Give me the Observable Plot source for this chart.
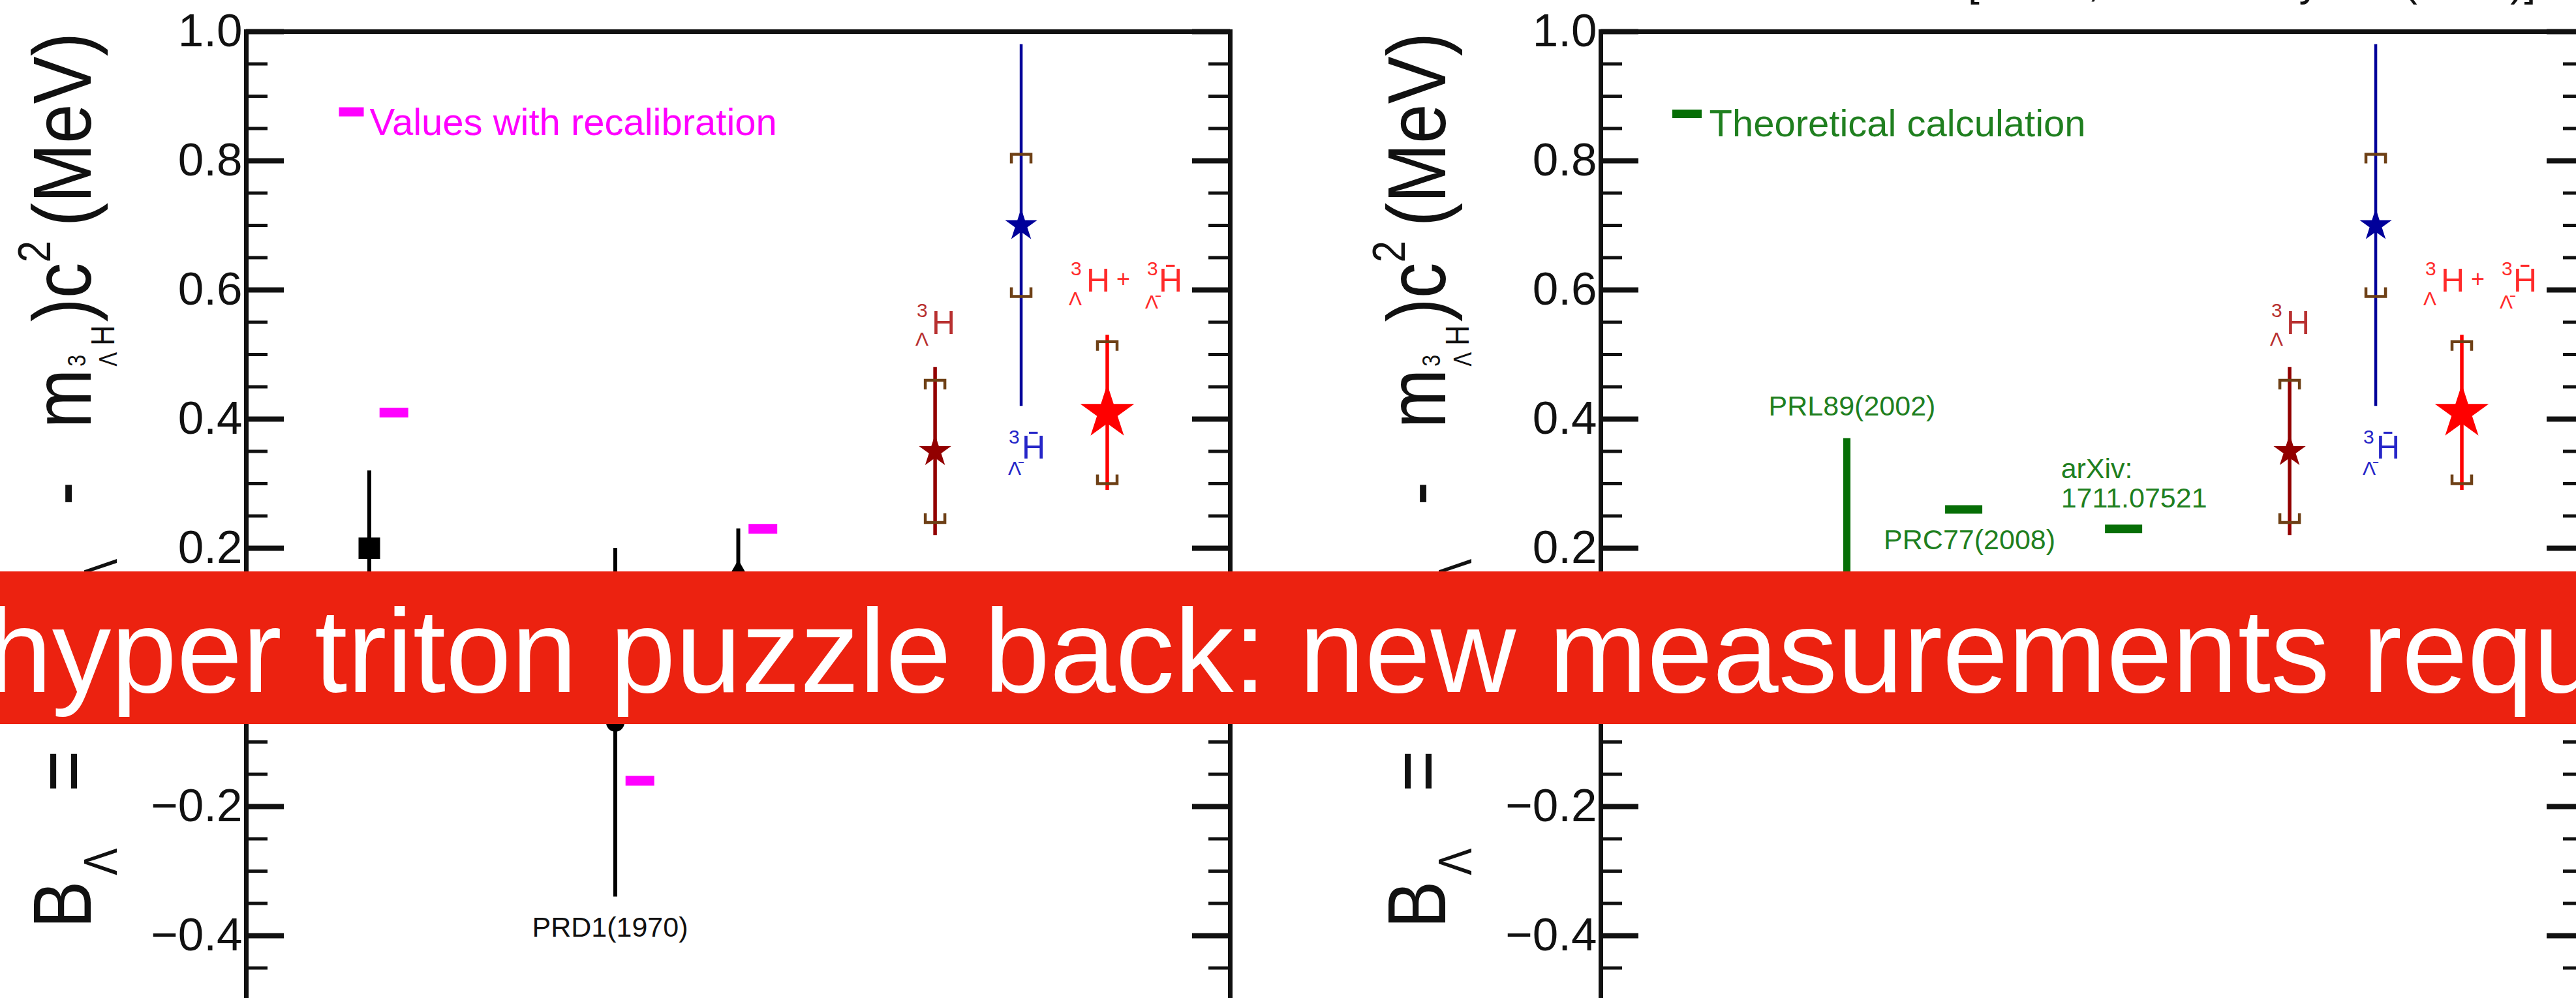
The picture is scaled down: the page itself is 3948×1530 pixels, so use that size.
<!DOCTYPE html>
<html>
<head>
<meta charset="utf-8">
<script src="https://cdn.jsdelivr.net/npm/d3@7"></script>
<script src="https://cdn.jsdelivr.net/npm/@observablehq/plot@0.6"></script>
<style>
  html, body { margin: 0; padding: 0; background: #fff; }
  body { width: 3948px; height: 1530px; overflow: hidden; position: relative;
         font-family: "Liberation Sans", Arial, Helvetica, sans-serif; }
  .panel { position: absolute; top: 0; width: 2076px; height: 1540px; }
  .panel svg { max-width: none !important; width: 2076px !important; height: 1540px !important; }
  #overlay { position: absolute; left: 0; top: 0; }
</style>
</head>
<body>
<div id="left" class="panel" style="left:0px"></div>
<div id="right" class="panel" style="left:2076px"></div>
<svg id="overlay" width="3948" height="1530"></svg>
<script>
// ---------------- data ----------------
// y axis (MeV)
const majorTicks = [-0.4, -0.2, 0.0, 0.2, 0.4, 0.6, 0.8, 1.0];
const minorTicks = [-0.45, -0.35, -0.3, -0.25, -0.15, -0.1, -0.05, 0.05, 0.1, 0.15,
                    0.25, 0.3, 0.35, 0.45, 0.5, 0.55, 0.65, 0.7, 0.75, 0.85, 0.9, 0.95];

// early emulsion / bubble-chamber measurements
const earlyX = [1, 3, 4];
const earlyB = [0.20, -0.07, 0.16];
const earlyErr = [0.12, 0.27, 0.07];
const earlyRef = ["", "PRD1(1970)", ""];

// the same measurements after recalibration
const recalX = [1.2, 3.2, 4.2];
const recalB = [0.41, -0.16, 0.23];

// STAR: hypertriton, antihypertriton, combined
const starX = [5.6, 6.3, 7.0];
const starB = [0.35, 0.70, 0.41];
const starStat = [0.13, 0.28, 0.12];
const starSys = [0.11, 0.11, 0.11];

// theoretical calculations
const theoryRef = ["PRL89(2002)", "PRC77(2008)", "arXiv:\n1711.07521"];
const theoryX = [2.0, 2.95, 4.25];
const theoryLow = [0.06, 0.26, 0.23];
const theoryHigh = [0.37, 0.26, 0.23];

// ---------------- tables ----------------
const early = earlyX.map((x, i) => ({x, b: earlyB[i], err: earlyErr[i], ref: earlyRef[i]}));
const recal = recalX.map((x, i) => ({x, b: recalB[i]}));
const star = starX.map((x, i) => ({x, b: starB[i], stat: starStat[i], sys: starSys[i]}));
const theory = theoryX.map((x, i) => ({x, ref: theoryRef[i], low: theoryLow[i], high: theoryHigh[i]}));

// ---------------- styles ----------------
const FONT = "'Liberation Sans', Arial, Helvetica, sans-serif";
const FRAME_W = 1508;
const starColor = ["#920000", "#00009a", "#ff0000"];
const starLabelColor = ["#b83030", "#2626c8", "#ff2a2a"];
const starR = [15.5, 15.5, 26];
const sysColor = "#6e4016";
const magenta = "#ff00ff";
const green = "#066e06";
const greenText = "#1f7f1f";

// custom marker shapes
const rectSym = (w, h) => ({draw(ctx) { ctx.rect(-w / 2, -h / 2, w, h); }});
const capUpper = {draw(ctx) { ctx.moveTo(-15, 14); ctx.lineTo(-15, 0); ctx.lineTo(15, 0); ctx.lineTo(15, 14); }};
const capLower = {draw(ctx) { ctx.moveTo(-15, -14); ctx.lineTo(-15, 0); ctx.lineTo(15, 0); ctx.lineTo(15, -14); }};

// isotope labels built from pieces (superscript mass number, subscript Lambda, element)
const starLabelPieces = [
  {at: "top", parts: [
    {t: "3", dx: -28, dy: -87, s: 30},
    {t: "Λ", dx: -30, dy: -43, s: 30},
    {t: "H", dx: -5, dy: -67, s: 50}]},
  {at: "bottom", parts: [
    {t: "3", dx: -19, dy: 48, s: 30},
    {t: "Λ\u0304", dx: -20, dy: 96, s: 30},
    {t: "H\u0304", dx: 1, dy: 64, s: 50}]},
  {at: "top", parts: [
    {t: "3", dx: -56, dy: -101, s: 30},
    {t: "Λ", dx: -59, dy: -55, s: 30},
    {t: "H", dx: -32, dy: -83, s: 50},
    {t: "+", dx: 14, dy: -85, s: 36},
    {t: "3", dx: 61, dy: -101, s: 30},
    {t: "Λ\u0304", dx: 58, dy: -50, s: 30},
    {t: "H\u0304", dx: 79, dy: -83, s: 50}]}
];

function starMarks() {
  const marks = [];
  star.forEach((d, i) => {
    marks.push(Plot.ruleX([d], {x: "x", y1: v => v.b - v.stat, y2: v => v.b + v.stat,
      stroke: starColor[i], strokeWidth: i === 1 ? 4.5 : 5.5}));
    marks.push(Plot.dot([d], {x: "x", y: v => v.b + v.sys, symbol: capUpper, r: 1,
      fill: "none", stroke: sysColor, strokeWidth: 4.5}));
    marks.push(Plot.dot([d], {x: "x", y: v => v.b - v.sys, symbol: capLower, r: 1,
      fill: "none", stroke: sysColor, strokeWidth: 4.5}));
    marks.push(Plot.dot([d], {x: "x", y: "b", symbol: "star", r: starR[i], fill: starColor[i], stroke: "none"}));
    const lab = starLabelPieces[i];
    lab.parts.forEach(p => {
      marks.push(Plot.text([d], {x: "x", y: v => lab.at === "top" ? v.b + v.stat : v.b - v.stat,
        text: () => p.t, dx: p.dx, dy: p.dy, fontSize: p.s, textAnchor: "start",
        fill: starLabelColor[i]}));
    });
  });
  return marks;
}

function frameMarks() {
  return [
    Plot.ruleY(majorTicks, {insetRight: FRAME_W - 58, stroke: "#111", strokeWidth: 8}),
    Plot.ruleY(majorTicks, {insetLeft: FRAME_W - 58, stroke: "#111", strokeWidth: 8}),
    Plot.ruleY(minorTicks, {insetRight: FRAME_W - 33, stroke: "#111", strokeWidth: 5}),
    Plot.ruleY(minorTicks, {insetLeft: FRAME_W - 33, stroke: "#111", strokeWidth: 5}),
    Plot.frame({stroke: "#111", strokeWidth: 7}),
    Plot.axisY({ticks: majorTicks, tickSize: 0, tickPadding: 6, fontSize: 71,
      tickFormat: d3.format(".1f"), label: null, fill: "#111"})
  ];
}

function panel(extra) {
  return Plot.plot({
    width: 2076, height: 1540,
    marginLeft: 377, marginRight: 191, marginTop: 48, marginBottom: 7,
    x: {domain: [0, 8], axis: null},
    y: {domain: [-0.5, 1.0]},
    style: {fontFamily: FONT, background: "transparent", overflow: "visible"},
    marks: [...frameMarks(), ...extra, ...starMarks()]
  });
}

// B_Λ = (m_Λ - m_{³ΛH}) c² (MeV), drawn vertically with sub/superscripts,
// in a narrow face and aligned to the top of the axis
function addYLabel(svg) {
  const F = 127;
  const t = d3.select(svg).append("text")
    .attr("transform", "translate(139,50) rotate(-90) scale(0.86,1)")
    .attr("text-anchor", "end")
    .attr("font-family", FONT)
    .attr("font-size", F)
    .attr("fill", "#111");
  const pieces = [
    {t: "B", s: F, dy: 0},
    {t: "Λ", s: 72, dy: 40, dx: 10},
    {t: " = ", s: F, dy: -40, dx: 65},
    {t: "(m", s: F, dy: 0, dx: 110},
    {t: "Λ", s: 72, dy: 40},
    {t: " - ", s: F, dy: -40, dx: 60},
    {t: "m", s: F, dy: 0, dx: 60},
    {t: "3", s: 38, dy: -8, dx: 4},
    {t: "Λ", s: 38, dy: 48, dx: -21},
    {t: "H", s: 50, dy: -4, dx: 12},
    {t: ")c", s: F, dy: -36, dx: 6},
    {t: "2", s: 70, dy: -62},
    {t: " (MeV)", s: F, dy: 62, dx: -10}
  ];
  pieces.forEach(p => {
    const ts = t.append("tspan").attr("font-size", p.s).attr("dy", p.dy).text(p.t);
    if (p.dx) ts.attr("dx", p.dx);
  });
}

// ---------------- left panel: old measurements and recalibration ----------------
const leftMarks = [
  Plot.ruleX(early, {x: "x", y1: d => d.b - d.err, y2: d => d.b + d.err, stroke: "#000", strokeWidth: 6}),
  Plot.dot(early.slice(0, 1), {x: "x", y: "b", symbol: rectSym(33, 33), r: 1, fill: "#000"}),
  Plot.dot(early.slice(1, 2), {x: "x", y: "b", symbol: "circle", r: 14, fill: "#000"}),
  Plot.dot(early.slice(2, 3), {x: "x", y: "b", symbol: "triangle", r: 14, fill: "#000"}),
  Plot.dot(recal, {x: "x", y: "b", symbol: rectSym(44, 15), r: 1, fill: magenta}),
  Plot.text(early.filter(d => d.ref), {x: "x", y: d => d.b - d.err, text: "ref",
    dx: -8, dy: 47, fontSize: 43, fill: "#111"}),
  Plot.dot([0], {frameAnchor: "top-left", dx: 161, dy: 123, symbol: rectSym(38, 14), r: 1, fill: magenta}),
  Plot.text(["Values with recalibration"], {frameAnchor: "top-left", dx: 189, dy: 117,
    textAnchor: "start", fontSize: 58, fill: magenta})
];

// ---------------- right panel: theoretical calculations ----------------
const theoryLabelStyle = [
  {at: "high", dx: 8, dy: -50, anchor: "middle"},
  {at: "low", dx: 9, dy: 46, anchor: "middle"},
  {at: "low", dx: -96, dy: -70, anchor: "start"}
];
const rightMarks = [
  Plot.ruleX(theory.filter(d => d.low < d.high), {x: "x", y1: "low", y2: "high", stroke: green, strokeWidth: 11}),
  Plot.dot(theory.filter(d => d.low === d.high), {x: "x", y: "low", symbol: rectSym(57, 13), r: 1, fill: green}),
  ...theory.map((d, i) => Plot.text([d], {x: "x", y: theoryLabelStyle[i].at, text: "ref",
    dx: theoryLabelStyle[i].dx, dy: theoryLabelStyle[i].dy, textAnchor: theoryLabelStyle[i].anchor,
    lineHeight: 1.05, fontSize: 43, fill: greenText})),
  Plot.dot([0], {frameAnchor: "top-left", dx: 132, dy: 126, symbol: rectSym(45, 13), r: 1, fill: green}),
  Plot.text(["Theoretical calculation"], {frameAnchor: "top-left", dx: 166, dy: 119,
    textAnchor: "start", fontSize: 58, fill: greenText})
];

const leftSvg = panel(leftMarks);
const rightSvg = panel(rightMarks);
addYLabel(leftSvg);
addYLabel(rightSvg);
document.getElementById("left").appendChild(leftSvg);
document.getElementById("right").appendChild(rightSvg);

// ---------------- headline banner and source line ----------------
const ov = d3.select("#overlay");
ov.append("text")
  .attr("x", 3016).attr("y", -6)
  .attr("font-family", FONT).attr("font-size", 64).attr("fill", "#111")
  .text("[STAR, Nature Physics (2020)]");
ov.append("rect")
  .attr("x", 0).attr("y", 876).attr("width", 3948).attr("height", 234)
  .attr("fill", "#ec2210");
ov.append("text")
  .attr("x", -21).attr("y", 1061)
  .attr("font-family", FONT).attr("font-size", 181).attr("fill", "#fff")
  .text("hyper triton puzzle back: new measurements required");
</script>
</body>
</html>
